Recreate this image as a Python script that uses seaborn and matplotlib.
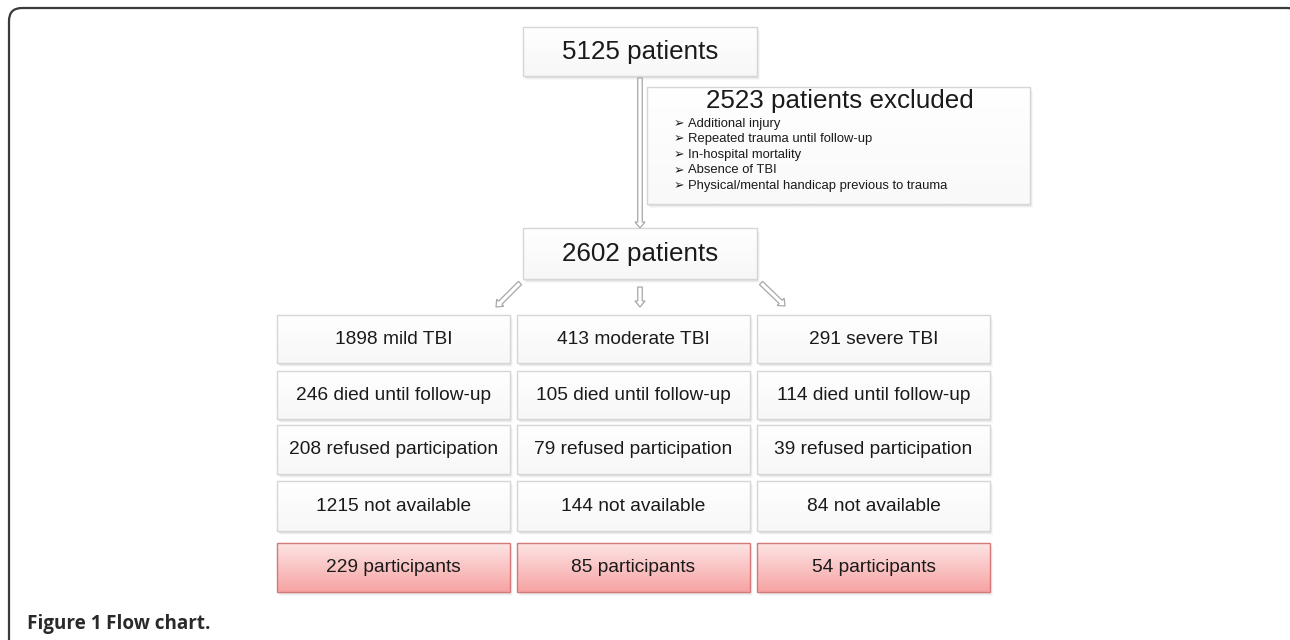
import numpy as np
import pandas as pd
import seaborn as sns
import matplotlib
matplotlib.use("Agg")
import matplotlib.pyplot as plt
from matplotlib.patches import FancyBboxPatch, Rectangle, FancyArrow

# ---------------- data ----------------
total_patients = 5125
excluded_patients = 2523
included_patients = 2602
exclusion_reasons = [
    "Additional injury",
    "Repeated trauma until follow-up",
    "In-hospital mortality",
    "Absence of TBI",
    "Physical/mental handicap previous to trauma",
]
severity = ["mild", "moderate", "severe"]
tbi_counts = [1898, 413, 291]
died_counts = [246, 105, 114]
refused_counts = [208, 79, 39]
not_available_counts = [1215, 144, 84]
participant_counts = [229, 85, 54]
caption_bold = "Figure 1"
caption_text = "Flow chart."

# ---------------- style ----------------
sns.set_theme(style="white")
plt.rcParams["font.family"] = ["Liberation Sans", "DejaVu Sans"]

W, H = 1290, 640
fig = plt.figure(figsize=(W / 100, H / 100), dpi=100)
ax = fig.add_axes([0, 0, 1, 1])
ax.set_xlim(0, W)
ax.set_ylim(H, 0)
ax.axis("off")

TEXT = "#1a1a1a"
BIG = 18.7
MID = 13.8


def shadow(x0, y0, x1, y1, z):
    for i, a in enumerate([0.10, 0.08, 0.06, 0.04]):
        d = 1 + i
        ax.add_patch(Rectangle((x0 + d - 1, y0 + d), x1 - x0, y1 - y0,
                               facecolor="#505050", edgecolor="none",
                               alpha=a, zorder=z))


def box(x0, y0, x1, y1, top="#ffffff", bottom="#f7f7f7", edge="#d6d6d6", z=3):
    shadow(x0, y0, x1, y1, z - 1)
    c0 = np.array(matplotlib.colors.to_rgb(top))
    c1 = np.array(matplotlib.colors.to_rgb(bottom))
    t = np.linspace(0, 1, 64)[:, None, None]
    grad = c0[None, None, :] * (1 - t) + c1[None, None, :] * t
    ax.imshow(grad, extent=(x0, x1, y1, y0), origin="upper",
              aspect="auto", zorder=z, interpolation="bilinear")
    ax.add_patch(Rectangle((x0, y0), x1 - x0, y1 - y0, facecolor="none",
                           edgecolor=edge, lw=1.0, zorder=z + 0.5))


def arrow(x, y, dx, dy):
    ax.add_patch(FancyArrow(x, y, dx, dy, width=4.5, head_width=10,
                            head_length=6, length_includes_head=True,
                            facecolor="white", edgecolor="#a8a8a8",
                            lw=0.9, zorder=5))


# outer frame (right and bottom edges fall outside the image)
ax.add_patch(FancyBboxPatch((9, 8), 1291, 700,
                            boxstyle="round,pad=0,rounding_size=13",
                            facecolor="none", edgecolor="#3a3a3a", lw=1.6,
                            zorder=1, clip_on=True))

# top box
box(523, 27, 757, 76)
ax.text(640, 52, f"{total_patients} patients", ha="center", va="center",
        fontsize=BIG, color=TEXT, zorder=6)

# main down arrow
arrow(640, 78, 0, 150)

# exclusion box
box(647, 87, 1030, 204, bottom="#f9f9f9")
ax.text(840, 101, f"{excluded_patients} patients excluded", ha="center",
        va="center", fontsize=BIG, color=TEXT, zorder=6)
for i, reason in enumerate(exclusion_reasons):
    yy = 123.5 + i * 15.6
    ax.text(674, yy, "\u27a2", ha="left", va="center", fontsize=9,
            color=TEXT, zorder=6, family=["DejaVu Sans"])
    ax.text(688, yy, reason, ha="left", va="center", fontsize=9.4,
            color=TEXT, zorder=6)

# second box
box(523, 228, 757, 279)
ax.text(640, 254, f"{included_patients} patients", ha="center", va="center",
        fontsize=BIG, color=TEXT, zorder=6)

# branching arrows
arrow(520, 283, -24, 24)
arrow(640, 287, 0, 20)
arrow(761, 283, 24, 23)

# grid of boxes
cols = [(277, 510), (517, 750), (757, 990)]
rows = [(315, 363), (371, 419), (425, 474), (481, 531)]
df = pd.DataFrame({
    "severity": severity,
    "tbi": tbi_counts,
    "died": died_counts,
    "refused": refused_counts,
    "na": not_available_counts,
    "part": participant_counts,
})
for ci, r in df.iterrows():
    x0, x1 = cols[ci]
    labels = [f"{r['tbi']} {r['severity']} TBI",
              f"{r['died']} died until follow-up",
              f"{r['refused']} refused participation",
              f"{r['na']} not available"]
    for (y0, y1), lab in zip(rows, labels):
        box(x0, y0, x1, y1)
        ax.text((x0 + x1) / 2, (y0 + y1) / 2 + 0.5, lab, ha="center",
                va="center", fontsize=MID, color=TEXT, zorder=6)
    # participants (red)
    y0, y1 = 543, 592
    box(x0, y0, x1, y1, top="#fde4e4", bottom="#f7a3a3", edge="#d47878")
    ax.text((x0 + x1) / 2, (y0 + y1) / 2 + 0.5, f"{r['part']} participants",
            ha="center", va="center", fontsize=MID, color=TEXT, zorder=6)

# caption
cap = ax.text(27, 624, caption_bold + " ", ha="left", va="center",
              fontsize=13.6, fontweight="bold", color="#2a2a2a",
              family=["Open Sans", "DejaVu Sans"], zorder=6)
fig.canvas.draw()
bb = cap.get_window_extent()
x_next = ax.transData.inverted().transform((bb.x1, 0))[0]
ax.text(x_next, 624, caption_text, ha="left", va="center",
        fontsize=13.6, fontweight="bold", color="#2a2a2a",
        family=["Open Sans", "DejaVu Sans"], zorder=6)

ax.set_xlim(0, W)
ax.set_ylim(H, 0)
fig.savefig("out.png", dpi=100)
